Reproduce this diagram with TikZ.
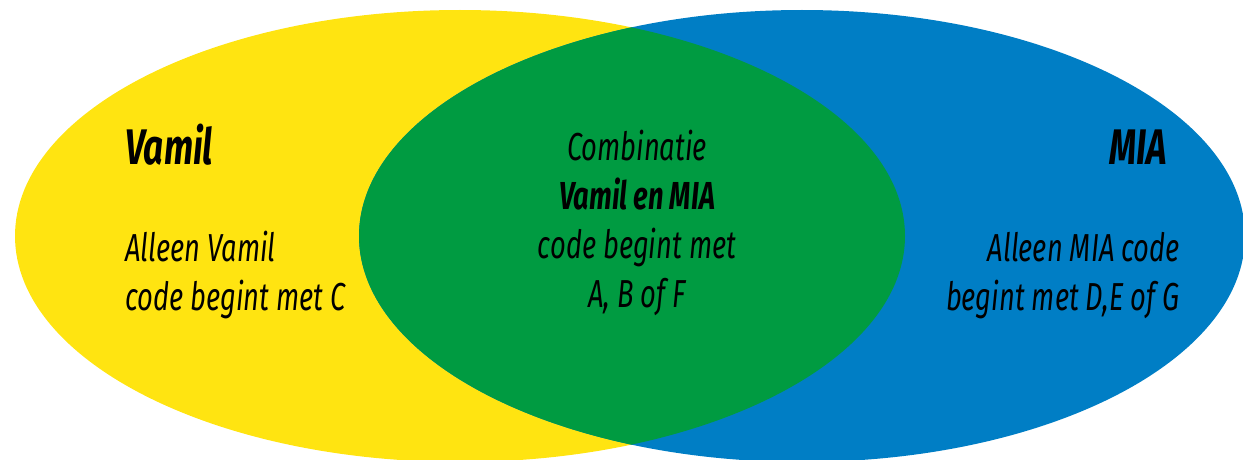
\documentclass[tikz,border=0pt]{standalone}
\usepackage{fontspec}
\setmainfont{Fira Sans}[FakeStretch=0.7]
\definecolor{vamilgeel}{RGB}{255,228,17}
\definecolor{miablauw}{RGB}{0,126,197}
\definecolor{combigroen}{RGB}{0,155,65}
\begin{document}
\begin{tikzpicture}[x=1pt,y=-1pt,
  tekst/.style={font=\fontsize{39}{49}\selectfont\itshape, inner sep=0pt},
  kop/.style={font=\fontsize{50}{60}\selectfont\bfseries\itshape, inner sep=0pt}]
  \useasboundingbox (0,0) rectangle (1243,460);

  % Vamil
  \fill[vamilgeel] (460,236) ellipse [x radius=445pt, y radius=226pt];
  % MIA
  \fill[miablauw] (802,236) ellipse [x radius=443pt, y radius=226pt];
  % overlap
  \begin{scope}
    \clip (460,236) ellipse [x radius=445pt, y radius=226pt];
    \fill[combigroen] (802,236) ellipse [x radius=443pt, y radius=226pt];
  \end{scope}

  % teksten (base = laatste regel)
  \node[kop, anchor=base west] (vamil) at (125,164) {Vamil};
  \node[tekst, anchor=base west, align=left] (alleenvamil) at (125,310)
    {Alleen Vamil\\code begint met C};
  \node[kop, anchor=base east] (mia) at (1167,164) {MIA};
  \node[tekst, anchor=base east, align=right] (alleenmia) at (1180,310)
    {Alleen MIA code\\begint met D,E of G};
  \node[tekst, anchor=base, align=center] (combi) at (637,307)
    {Combinatie\\\textbf{Vamil en MIA}\\code begint met\\A, B of F};
\end{tikzpicture}
\end{document}
